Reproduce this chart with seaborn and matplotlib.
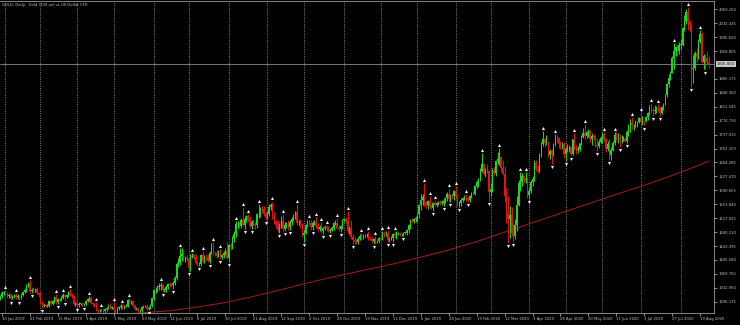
import numpy as np
import pandas as pd
import matplotlib
matplotlib.use("Agg")
import matplotlib.pyplot as plt
import seaborn as sns
from matplotlib.transforms import blended_transform_factory

# ---------------- data ----------------
title = "GOLD, Daily:  Gold (100 oz) vs US Dollar CFD"
first_open = 1303.0
start_date = "2019-01-29"
end_date = "2020-08-25"
holidays = ["2019-04-19", "2019-12-25", "2020-01-01", "2020-04-10"]

closes = [
    1311, 1319, 1321, 1318, 1311, 1314, 1306, 1309, 1314, 1308, 1311, 1306, 1314, 1322, 1327, 1340, 1346,
    1324, 1328, 1327, 1329, 1319, 1313, 1293, 1286, 1287, 1286, 1286, 1298, 1291, 1297, 1309, 1295,
    1302, 1302, 1306, 1313, 1308, 1313, 1322, 1315, 1310, 1290, 1292, 1287, 1291, 1291, 1289, 1291,
    1298, 1303, 1306, 1292, 1290, 1288, 1274, 1273, 1275, 1274, 1271, 1276, 1279, 1286, 1280, 1283,
    1273, 1271, 1279, 1281, 1285, 1281, 1284, 1285, 1300, 1296, 1297, 1286, 1277, 1277, 1273, 1274,
    1283, 1284, 1284, 1278, 1280, 1288, 1305, 1326, 1327, 1334, 1337, 1341, 1326, 1327, 1335, 1342,
    1341, 1339, 1345, 1360, 1397, 1399, 1418, 1423, 1408, 1412, 1409, 1384, 1418, 1419, 1415, 1399,
    1396, 1397, 1419, 1403, 1415, 1413, 1405, 1426, 1445, 1426, 1424, 1418, 1426, 1414, 1419, 1426,
    1431, 1413, 1445, 1440, 1464, 1474, 1501, 1501, 1497, 1512, 1500, 1516, 1523, 1513, 1496, 1507,
    1502, 1498, 1527, 1528, 1542, 1540, 1527, 1520, 1529, 1547, 1551, 1520, 1506, 1499, 1486, 1498,
    1509, 1488, 1498, 1501, 1493, 1506, 1516, 1522, 1532, 1504, 1504, 1497, 1472, 1479, 1499, 1506,
    1505, 1493, 1505, 1505, 1496, 1488, 1494, 1482, 1490, 1493, 1490, 1484, 1487, 1492, 1504, 1505,
    1492, 1488, 1495, 1513, 1514, 1510, 1484, 1491, 1467, 1459, 1456, 1455, 1463, 1471, 1468, 1472,
    1472, 1473, 1464, 1462, 1456, 1462, 1455, 1456, 1464, 1463, 1477, 1474, 1475, 1459, 1462, 1464,
    1475, 1470, 1476, 1476, 1475, 1475, 1478, 1478, 1486, 1499, 1511, 1510, 1514, 1517, 1528, 1551,
    1566, 1574, 1556, 1552, 1562, 1548, 1545, 1557, 1552, 1557, 1560, 1558, 1558, 1563, 1571, 1582,
    1567, 1577, 1576, 1589, 1576, 1553, 1556, 1566, 1570, 1573, 1567, 1566, 1575, 1584, 1581, 1602,
    1612, 1620, 1643, 1659, 1635, 1643, 1642, 1585, 1594, 1643, 1636, 1669, 1673, 1679, 1649, 1635,
    1576, 1530, 1514, 1526, 1477, 1469, 1499, 1553, 1610, 1612, 1628, 1617, 1621, 1577, 1590, 1613,
    1620, 1662, 1648, 1644, 1683, 1713, 1727, 1716, 1718, 1683, 1695, 1686, 1713, 1730, 1728, 1713,
    1707, 1713, 1686, 1700, 1701, 1705, 1686, 1725, 1702, 1696, 1701, 1715, 1731, 1743, 1733, 1745,
    1747, 1725, 1735, 1728, 1710, 1709, 1718, 1730, 1739, 1726, 1700, 1714, 1684, 1698, 1715, 1737,
    1728, 1730, 1726, 1727, 1727, 1722, 1744, 1754, 1768, 1762, 1763, 1771, 1772, 1781, 1770, 1775,
    1773, 1784, 1795, 1809, 1803, 1799, 1802, 1809, 1808, 1796, 1810, 1818, 1843, 1872, 1887, 1902,
    1941, 1959, 1970, 1958, 1975, 1976, 2019, 2039, 2062, 2035, 2028, 1911, 1915, 1954, 1944, 1985,
    2003, 1929, 1947, 1940, 1929, 1925,
]

wick_up = [
    4, 5, 4, 6, 3, 6, 4, 5, 3, 4, 5, 3, 4, 3, 5, 4, 2,
    8, 4, 6, 3, 5, 4, 8, 4, 5, 3, 4, 3, 6, 4, 3, 8,
    4, 3, 4, 6, 4, 3, 3, 7, 4, 5, 3, 4, 4, 3, 4, 3,
    3, 4, 5, 4, 3, 4, 8, 4, 3, 4, 4, 3, 3, 4, 6, 3,
    12, 5, 3, 4, 4, 5, 3, 4, 3, 5, 4, 4, 3, 4, 4, 3,
    3, 4, 3, 5, 4, 3, 3, 3, 7, 5, 8, 7, 4, 5, 4, 4,
    5, 4, 5, 4, 3, 12, 21, 16, 6, 5, 8, 5, 3, 5, 4, 8,
    6, 5, 4, 10, 5, 6, 8, 4, 7, 8, 5, 8, 7, 10, 4, 5,
    6, 22, 4, 10, 7, 10, 9, 8, 5, 6, 34, 8, 3, 6, 10, 5,
    8, 6, 3, 26, 4, 8, 10, 5, 6, 8, 6, 10, 12, 6, 14, 6,
    14, 18, 8, 6, 10, 5, 4, 7, 3, 22, 8, 11, 6, 6, 3, 6,
    8, 8, 4, 6, 14, 8, 4, 12, 4, 5, 6, 6, 4, 4, 3, 8,
    12, 6, 5, 3, 3, 6, 26, 4, 22, 8, 8, 5, 4, 4, 6, 4,
    4, 6, 10, 6, 6, 3, 7, 4, 3, 6, 7, 5, 8, 11, 6, 5,
    4, 8, 6, 4, 4, 4, 3, 3, 3, 3, 3, 6, 4, 6, 3, 3,
    16, 8, 37, 6, 3, 14, 7, 3, 9, 4, 3, 5, 8, 6, 3, 4,
    16, 4, 6, 3, 14, 5, 6, 4, 3, 6, 7, 5, 3, 3, 5, 3,
    6, 4, 6, 30, 3, 7, 17, 2, 17, 7, 9, 2, 19, 24, 2, 22,
    19, 20, 45, 22, 21, 26, 17, 22, 7, 26, 9, 4, 19, 6, 9, 6,
    8, 9, 10, 10, 7, 5, 20, 2, 20, 3, 5, 5, 3, 9, 8, 3,
    8, 6, 6, 4, 12, 6, 4, 2, 18, 8, 6, 2, 5, 13, 22, 2,
    5, 3, 6, 4, 8, 18, 7, 4, 5, 6, 3, 8, 12, 6, 6, 7,
    7, 13, 9, 9, 8, 4, 6, 12, 11, 17, 3, 6, 3, 4, 17, 13,
    2, 2, 2, 8, 12, 8, 15, 4, 9, 3, 3, 3, 1, 2, 11, 5,
    4, 22, 3, 7, 9, 14, 3, 16, 8, 13, 5, 3, 34, 6, 12, 6,
    12, 7, 4, 4, 18, 16,
]

wick_dn = [
    3, 4, 5, 3, 6, 4, 5, 3, 4, 5, 4, 6, 3, 4, 3, 5, 4,
    4, 5, 3, 6, 3, 5, 4, 6, 5, 4, 5, 5, 3, 4, 5, 4,
    5, 4, 3, 4, 10, 3, 4, 3, 4, 3, 4, 5, 4, 3, 4, 5,
    4, 3, 4, 3, 4, 5, 3, 6, 4, 3, 4, 5, 4, 3, 4, 4,
    3, 4, 5, 4, 3, 4, 4, 3, 4, 3, 5, 4, 3, 4, 3, 5,
    5, 4, 3, 3, 5, 4, 6, 5, 6, 4, 6, 9, 5, 4, 6, 4,
    6, 5, 8, 5, 6, 8, 5, 14, 5, 7, 4, 6, 6, 5, 6, 4,
    5, 6, 7, 5, 4, 6, 5, 6, 5, 6, 7, 5, 4, 6, 5, 6,
    6, 4, 12, 6, 5, 10, 8, 10, 8, 6, 5, 12, 8, 4, 6, 8,
    5, 9, 6, 10, 8, 6, 5, 7, 6, 5, 8, 6, 5, 8, 6, 8,
    6, 4, 5, 8, 6, 8, 8, 6, 6, 5, 6, 5, 4, 19, 5, 6,
    5, 6, 7, 7, 4, 5, 6, 4, 8, 5, 6, 4, 6, 5, 7, 5,
    3, 6, 8, 6, 6, 8, 5, 9, 4, 10, 7, 6, 5, 4, 8, 5,
    6, 5, 4, 4, 5, 6, 4, 3, 4, 5, 4, 6, 5, 4, 4, 4,
    10, 5, 8, 4, 4, 4, 5, 4, 6, 8, 10, 5, 6, 6, 8, 10,
    12, 14, 7, 8, 10, 5, 5, 8, 4, 6, 6, 7, 6, 8, 6, 8,
    6, 8, 9, 10, 8, 3, 7, 6, 6, 5, 5, 6, 6, 5, 4, 4,
    4, 12, 4, 3, 5, 10, 5, 22, 10, 7, 4, 7, 9, 16, 9, 4,
    16, 26, 63, 49, 7, 14, 6, 15, 3, 20, 11, 7, 6, 7, 9, 7,
    12, 4, 6, 8, 5, 3, 5, 10, 5, 3, 10, 26, 5, 6, 9, 10,
    7, 6, 11, 17, 8, 10, 5, 3, 4, 9, 8, 6, 4, 3, 7, 3,
    13, 6, 15, 5, 5, 15, 6, 3, 14, 6, 7, 6, 14, 13, 3, 4,
    8, 11, 22, 10, 6, 4, 5, 9, 10, 10, 13, 6, 13, 4, 5, 6,
    11, 2, 8, 4, 8, 12, 7, 6, 8, 10, 3, 6, 3, 6, 8, 4,
    2, 30, 14, 12, 7, 12, 5, 7, 9, 20, 17, 48, 37, 7, 13, 7,
    5, 2, 18, 30, 4, 10,
]

# 200-period moving average at several bars
ma_bars = [60, 77, 96, 112, 128, 144, 160, 176, 192, 208, 224, 240, 256, 272,
           288, 304, 320, 336, 352, 368, 384, 400, 405]
ma_vals = [1258, 1266, 1272, 1282, 1294, 1310, 1328, 1347, 1364, 1380, 1396, 1414,
           1433, 1455, 1480, 1505, 1530, 1555, 1580, 1604, 1630, 1658, 1668]

x_tick_labels = ["30 Jan 2019", "21 Feb 2019", "15 Mar 2019", "9 Apr 2019", "1 May 2019",
                 "23 May 2019", "14 Jun 2019", "8 Jul 2019", "30 Jul 2019", "21 Aug 2019",
                 "12 Sep 2019", "4 Oct 2019", "28 Oct 2019", "19 Nov 2019", "11 Dec 2019",
                 "6 Jan 2020", "28 Jan 2020", "19 Feb 2020", "12 Mar 2020", "3 Apr 2020",
                 "28 Apr 2020", "20 May 2020", "11 Jun 2020", "3 Jul 2020", "27 Jul 2020",
                 "19 Aug 2020"]
y_tick_values = [1296.135, 1332.950, 1369.765, 1406.580, 1443.395, 1480.210, 1517.025,
                 1553.840, 1590.655, 1627.470, 1664.285, 1701.100, 1737.915, 1774.730,
                 1811.545, 1848.360, 1885.175, 1958.805, 1995.620, 2032.435, 2069.250]

# ---------------- style ----------------
sns.set_style("ticks", {"axes.facecolor": "black", "figure.facecolor": "black",
                        "axes.edgecolor": "#9a9a9a", "axes.grid": False})
plt.rcParams["font.family"] = ["DejaVu Sans"]
TXT = "#c4c4c4"
BULL = "#1fd81f"
BEAR = "#e41414"
FS = 2.7

c = np.array(closes, dtype=float)
o = np.r_[first_open, c[:-1]]
h = np.maximum(o, c) + np.array(wick_up, dtype=float)
l = np.minimum(o, c) - np.array(wick_dn, dtype=float)
n = len(c)
x = np.arange(n) - 1

dates = pd.bdate_range(start_date, end_date)
dates = dates[~dates.isin(pd.to_datetime(holidays))][:n]

fig = plt.figure(figsize=(7.4, 3.25), dpi=100, facecolor="black")
ax = fig.add_axes([0, 12 / 325, 714 / 740, 312 / 325])
ax.set_facecolor("black")

# monthly dotted grid
mon = pd.Series(dates.month)
month_starts = np.where(mon.ne(mon.shift()).values)[0][1:] - 1
for ms in month_starts:
    ax.axvline(ms, color="#a8a8a8", lw=0.55, ls=(0, (1.2, 1.8)), zorder=0)

# candles
cols = np.where(c >= o, BULL, BEAR)
ax.vlines(x, l, h, colors=cols, lw=0.7, zorder=2)
ax.bar(x, np.maximum(np.abs(c - o), 1.2), bottom=np.minimum(o, c), width=0.72,
       color=cols, linewidth=0, zorder=3)

# moving average
sns.lineplot(x=ma_bars, y=ma_vals, ax=ax, color="#a81c1c", lw=0.7, zorder=1)

# fractals
up_i, dn_i = [], []
for i in range(2, n - 2):
    if h[i] > max(h[i - 1], h[i - 2]) and h[i] >= max(h[i + 1], h[i + 2]):
        up_i.append(i)
    if l[i] < min(l[i - 1], l[i - 2]) and l[i] <= min(l[i + 1], l[i + 2]):
        dn_i.append(i)
up_i, dn_i = np.array(up_i), np.array(dn_i)
sns.scatterplot(x=x[up_i], y=h[up_i] + 8, marker="^", s=5, color="#f0f0f0",
                linewidth=0, ax=ax, zorder=4)
sns.scatterplot(x=x[dn_i], y=l[dn_i] - 8, marker="v", s=5, color="#f0f0f0",
                linewidth=0, ax=ax, zorder=4)

# current price line & box
last = c[-1]
ax.axhline(last, color="#8a8a8a", lw=0.6, zorder=1)
tr = blended_transform_factory(ax.transAxes, ax.transData)
ax.text(1.004, last, f"{last:.3f}", transform=tr, ha="left", va="center",
        fontsize=FS, color="#101010", zorder=6, clip_on=False,
        bbox=dict(boxstyle="square,pad=0.35", fc="#c8c8c8", ec="none"))

# axes
ax.set_xlim(-1.15, 408.0)
ax.set_ylim(1266.3, 2091.1)
ax.set_xticks(np.arange(0, 16 * len(x_tick_labels), 16))
ax.set_xticklabels(x_tick_labels)
for t in ax.get_xticklabels():
    t.set_ha("left")
ax.yaxis.tick_right()
ax.set_yticks(y_tick_values)
ax.set_yticklabels([f"{v:.3f}" for v in y_tick_values])
ax.tick_params(axis="both", labelsize=FS, colors=TXT, length=2, width=0.5, pad=1.2)
ax.tick_params(axis="x", pad=1.0)
ax.spines["left"].set_visible(False)
for s in ["right", "bottom", "top"]:
    ax.spines[s].set_visible(True)
    ax.spines[s].set_color("#9a9a9a")
    ax.spines[s].set_linewidth(0.6)
ax.set_xlabel("")
ax.set_ylabel("")
ax.text(0.003, 0.992, title, transform=ax.transAxes, ha="left", va="top",
        fontsize=FS, color=TXT)

fig.savefig("out.png", dpi=100, facecolor="black")
